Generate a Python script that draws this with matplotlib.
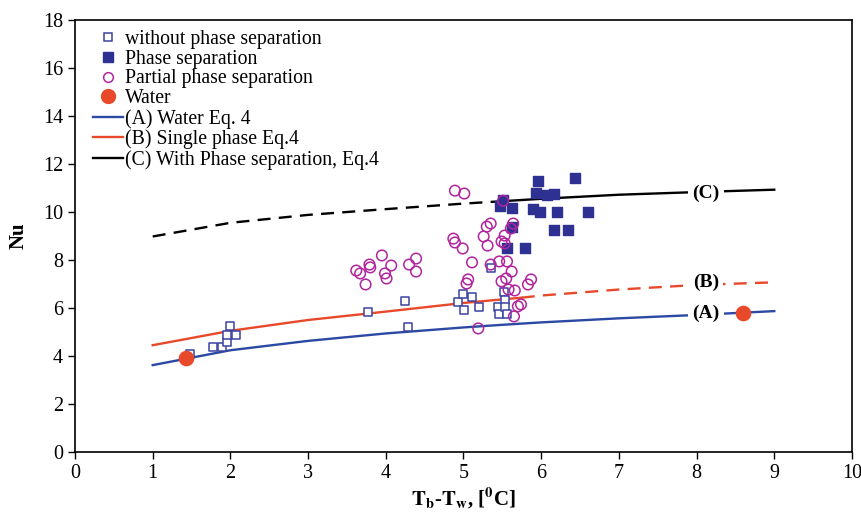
import matplotlib
matplotlib.use("Agg")
import matplotlib.pyplot as plt
from matplotlib.lines import Line2D

plt.rcParams['font.family'] = ['Liberation Serif', 'DejaVu Serif']
plt.rcParams['mathtext.fontset'] = 'stix'

# --- data ---
open_sq_x = [1.48, 1.78, 1.89, 1.95, 1.96, 2.07, 2.00, 3.77, 4.25, 4.29, 4.93, 4.99, 5.01,
             5.11, 5.20, 5.35, 5.44, 5.46, 5.52, 5.54, 5.53, 5.56]
open_sq_y = [4.07, 4.36, 4.36, 4.57, 4.86, 4.86, 5.24, 5.82, 6.28, 5.20, 6.23, 6.57, 5.90,
             6.44, 6.03, 7.65, 6.03, 5.74, 6.65, 6.32, 6.03, 5.74]

filled_sq_x = [5.96, 6.43, 5.93, 6.07, 6.17, 5.51, 5.47, 5.62, 5.90, 5.99, 6.21, 6.60, 6.17,
               6.35, 5.62, 5.56, 5.79]
filled_sq_y = [11.31, 11.43, 10.81, 10.72, 10.76, 10.52, 10.27, 10.18, 10.14, 10.02, 10.02,
               10.02, 9.27, 9.23, 9.39, 8.48, 8.52]

circ_x = [4.89, 5.01, 4.87, 4.89, 4.99, 5.11, 5.06, 5.04, 3.95, 3.79, 3.80, 3.62, 3.67, 3.74,
          3.99, 4.01, 4.07, 4.30, 4.39, 4.39, 5.51, 5.35, 5.30, 5.64, 5.61, 5.26, 5.53, 5.49,
          5.53, 5.31, 5.46, 5.56, 5.35, 5.62, 5.49, 5.58, 5.66, 5.87, 5.83, 5.70, 5.74, 5.65,
          5.19, 5.55]
circ_y = [10.89, 10.77, 8.89, 8.73, 8.48, 7.90, 7.19, 7.02, 8.19, 7.81, 7.69, 7.56, 7.44, 6.98,
          7.44, 7.23, 7.77, 7.81, 8.06, 7.52, 10.47, 9.52, 9.39, 9.52, 9.31, 8.98, 9.02, 8.77,
          8.69, 8.60, 7.94, 7.94, 7.81, 7.52, 7.11, 6.77, 6.73, 7.19, 6.98, 6.07, 6.15, 5.65,
          5.15, 7.23]

water_x = [1.43, 8.60]
water_y = [3.92, 5.80]

curve_x = [1, 2, 3, 4, 5, 5.5, 5.75, 6, 7, 8, 9]
curve_A = [3.62, 4.24, 4.63, 4.94, 5.19, 5.30, 5.35, 5.40, 5.57, 5.71, 5.87]
curve_B = [4.45, 5.05, 5.50, 5.85, 6.21, 6.36, 6.43, 6.52, 6.77, 6.96, 7.07]
curve_C = [8.98, 9.55, 9.88, 10.12, 10.35, 10.45, 10.50, 10.55, 10.72, 10.83, 10.93]

labels = ['without phase separation', 'Phase separation', 'Partial phase separation', 'Water',
          '(A) Water Eq. 4', '(B) Single phase Eq.4', '(C) With Phase separation, Eq.4']

c_navy = '#2e3192'
c_open = '#3b43a0'
c_mag = '#b0259e'
c_orange = '#e8492a'
c_blue = '#2b48a3'

fig = plt.figure(figsize=(8.61, 5.13), dpi=100)
ax = fig.add_axes([0.0871, 0.1189, 0.9024, 0.8421])

lw = 1.7
dash = (5.5, 3.5)
# curve A (solid)
ax.plot(curve_x, curve_A, color=c_blue, lw=lw, zorder=2)
# curve B: solid up to 5.75, dashed after
iB = curve_x.index(5.75)
ax.plot(curve_x[:iB + 1], curve_B[:iB + 1], color=c_orange, lw=lw, zorder=2)
ax.plot(curve_x[iB:], curve_B[iB:], color=c_orange, lw=lw, dashes=dash, zorder=2)
# curve C: dashed up to 5.5, solid after
iC = curve_x.index(5.5)
ax.plot(curve_x[:iC + 1], curve_C[:iC + 1], color='black', lw=lw, dashes=dash, zorder=2)
ax.plot(curve_x[iC:], curve_C[iC:], color='black', lw=lw, zorder=2)

ax.scatter(open_sq_x, open_sq_y, marker='s', s=40, facecolors='white', edgecolors=c_open,
           linewidths=1.1, zorder=3)
ax.scatter(circ_x, circ_y, marker='o', s=58, facecolors='none', edgecolors=c_mag,
           linewidths=1.1, zorder=4)
ax.scatter(filled_sq_x, filled_sq_y, marker='s', s=62, color=c_navy, zorder=3)
ax.scatter(water_x, water_y, marker='o', s=105, color=c_orange, zorder=5)

for txt, yv in [('(C)', 10.77), ('(B)', 7.07), ('(A)', 5.78)]:
    ax.text(8.12, yv, txt, ha='center', va='center', fontsize=14, fontweight='bold',
            bbox=dict(facecolor='white', edgecolor='none', pad=3.0), zorder=4)

handles = [
    Line2D([], [], ls='none', marker='s', ms=6, mfc='white', mec=c_open, mew=1.1),
    Line2D([], [], ls='none', marker='s', ms=7.5, color=c_navy),
    Line2D([], [], ls='none', marker='o', ms=7, mfc='none', mec=c_mag, mew=1.1),
    Line2D([], [], ls='none', marker='o', ms=10, color=c_orange),
    Line2D([], [], color=c_blue, lw=lw),
    Line2D([], [], color=c_orange, lw=lw),
    Line2D([], [], color='black', lw=lw),
]
ax.legend(handles, labels, loc='upper left', bbox_to_anchor=(0.011, 1.0), frameon=False,
          fontsize=14.2, labelspacing=0.04, handlelength=1.5, handletextpad=0.1,
          borderaxespad=0.2, borderpad=0.3)

ax.set_xlim(0, 10)
ax.set_ylim(0, 18)
ax.set_xticks(range(0, 11))
ax.set_yticks(range(0, 19, 2))
ax.tick_params(direction='out', length=5, width=1, labelsize=14.5, colors='black')
for s in ax.spines.values():
    s.set_linewidth(1.2)
ax.set_ylabel('Nu', fontsize=15, fontweight='bold', labelpad=10)
ax.set_xlabel(r'$\mathbf{T_b}$-$\mathbf{T_w}$, [$\mathbf{^0}$C]', fontsize=15,
              fontweight='bold', labelpad=2)

fig.savefig('out.png', dpi=100)
